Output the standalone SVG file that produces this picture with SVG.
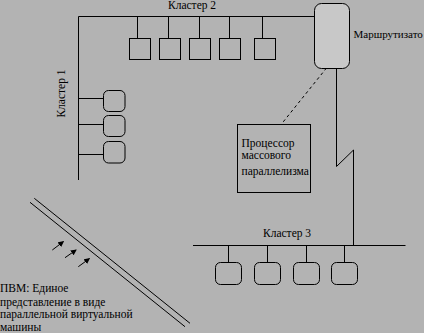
<svg xmlns="http://www.w3.org/2000/svg" width="424" height="333" viewBox="0 0 424 333">
<style>
.ln{stroke:#000;stroke-width:1;fill:none}
.bx{stroke:#000;stroke-width:1;fill:none}
.rt{stroke:#000;stroke-width:1;fill:#c8c8c8}
text{font-family:"Liberation Serif","Times New Roman","DejaVu Serif",serif;font-size:11.5px;fill:#000}
</style>
<defs>
<marker id="ah" markerWidth="6" markerHeight="6" refX="5" refY="3" orient="auto" markerUnits="userSpaceOnUse">
<path d="M0,0 L6,3 L0,6 Z" fill="#000"/>
</marker>
</defs>
<rect x="0" y="0" width="424" height="333" fill="#b3b3b3"/>
<g id="connectors">
<path class="ln" d="M78.5,180 V16.5 H315"/>
<path class="ln" d="M137.5,16.5 V38.5 M168.5,16.5 V38.5 M199.5,16.5 V38.5 M229.5,16.5 V38.5 M262.5,16.5 V38.5"/>
<path class="ln" d="M78.5,98.5 H103.5 M78.5,124.5 H103.5 M78.5,154.5 H103.5"/>
<path class="ln" d="M336.5,68 V166.5 L353.5,150 V245.5"/>
<path class="ln" d="M193,245.5 H405.5"/>
<path class="ln" d="M228.5,245.5 V262.5 M267.5,245.5 V262.5 M306.5,245.5 V262.5 M344.5,245.5 V262.5"/>
<path class="ln" d="M326.5,68 L281.5,124" stroke-dasharray="3,3"/>
<path class="ln" d="M34.3,198.3 L190,323.3 M30,202.3 L185,326.7"/>
<path class="ln" d="M52.3,250 L63.3,241.7" marker-end="url(#ah)"/>
<path class="ln" d="M65,257.7 L76,250" marker-end="url(#ah)"/>
<path class="ln" d="M78.3,266.7 L89.3,258.7" marker-end="url(#ah)"/>
</g>
<g id="cluster2">
<text x="168" y="8.5">Кластер 2</text>
<rect class="bx" x="129.5" y="38.5" width="21" height="21"/>
<rect class="bx" x="159.5" y="38.5" width="21" height="21"/>
<rect class="bx" x="189.5" y="38.5" width="21" height="21"/>
<rect class="bx" x="219.5" y="38.5" width="21" height="21"/>
<rect class="bx" x="254.5" y="38.5" width="21" height="21"/>
</g>
<g id="cluster1">
<text transform="translate(65,93.5) rotate(-90)" text-anchor="middle">Кластер 1</text>
<rect class="bx" x="103.5" y="90.5" width="21.5" height="21" rx="5"/>
<rect class="bx" x="103.5" y="115.5" width="21.5" height="21" rx="5"/>
<rect class="bx" x="103.5" y="141.5" width="21.5" height="21.5" rx="5"/>
</g>
<g id="router">
<rect class="rt" x="314.5" y="3.5" width="35" height="65" rx="7"/>
<text x="353.5" y="37.5" style="font-size:11px">Маршрутизато</text>
</g>
<g id="processor">
<rect class="bx" x="237.5" y="124.5" width="73" height="68"/>
<text x="241.5" y="146.5">Процессор</text>
<text x="241.5" y="158.5">массового</text>
<text x="241.5" y="175">параллелизма</text>
</g>
<g id="cluster3">
<text x="263" y="236.5">Кластер 3</text>
<rect class="bx" x="215.5" y="262.5" width="26" height="22" rx="5"/>
<rect class="bx" x="254.5" y="262.5" width="26" height="22" rx="5"/>
<rect class="bx" x="293.5" y="262.5" width="26" height="22" rx="5"/>
<rect class="bx" x="331.5" y="262.5" width="26" height="22" rx="5"/>
</g>
<g id="pvm">
<text x="0" y="291.5">ПВМ: Единое</text>
<text x="0" y="305.5">представление в виде</text>
<text x="0" y="318">параллельной виртуальной</text>
<text x="0" y="331">машины</text>
</g>
</svg>
